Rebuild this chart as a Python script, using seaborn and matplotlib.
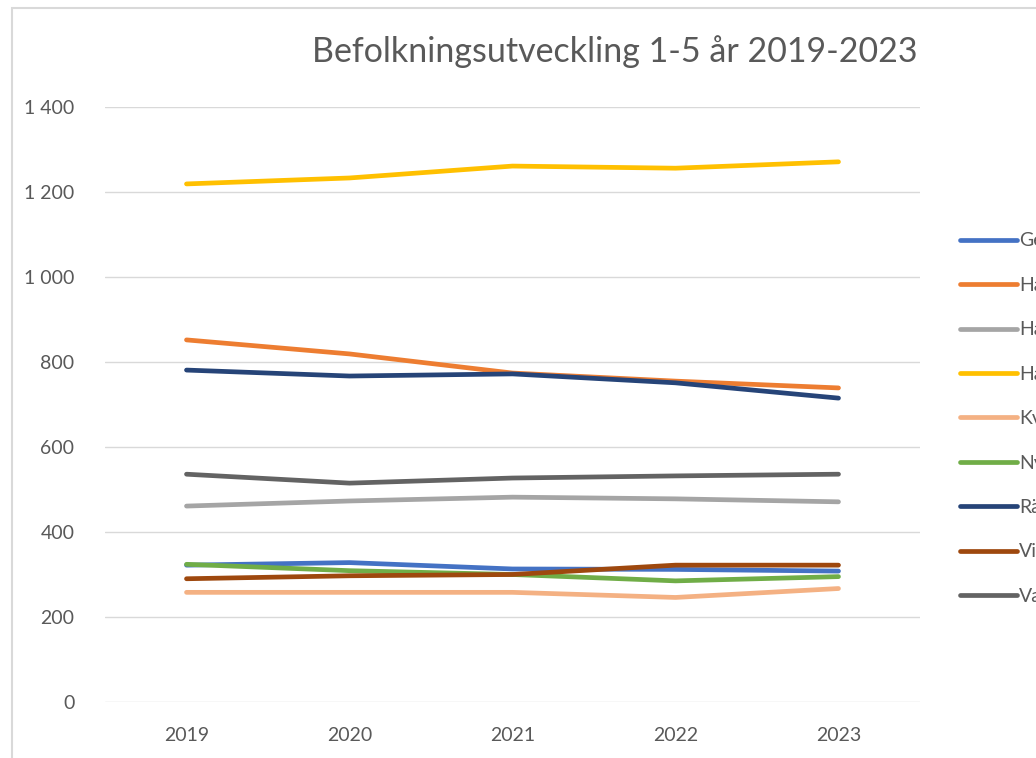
import pandas as pd
import seaborn as sns
import matplotlib.pyplot as plt
from matplotlib.patches import Rectangle
from matplotlib.ticker import FuncFormatter

years = ["2019", "2020", "2021", "2022", "2023"]
areas = ["Getinge", "Harplinge", "Haverdal", "Halmstad", "Kvibille",
         "Nyhem", "Rävinge", "Vinsarp", "Vallås"]
values = {
    "Getinge":   [322, 328, 313, 312, 308],
    "Harplinge": [852, 819, 774, 755, 739],
    "Haverdal":  [461, 473, 482, 478, 471],
    "Halmstad":  [1219, 1233, 1261, 1256, 1271],
    "Kvibille":  [258, 258, 258, 246, 267],
    "Nyhem":     [324, 309, 300, 285, 295],
    "Rävinge":   [781, 767, 772, 751, 715],
    "Vinsarp":   [290, 297, 300, 322, 322],
    "Vallås":    [536, 515, 527, 532, 536],
}
colors = ["#4472C4", "#ED7D31", "#A5A5A5", "#FFC000", "#F4B183",
          "#70AD47", "#264478", "#9E480E", "#636363"]


def build_frame():
    rows = []
    for area in areas:
        for year, v in zip(years, values[area]):
            rows.append({"År": year, "Område": area, "Antal": v})
    return pd.DataFrame(rows)


def plot(df):
    sns.set_theme(style="white")
    plt.rcParams["font.family"] = ["Lato", "DejaVu Sans"]
    W, H = 1036, 758
    fig = plt.figure(figsize=(W / 100, H / 100), dpi=100)
    ax = fig.add_axes([105 / W, (H - 702) / H, 815 / W, 595 / H])

    sns.lineplot(data=df, x="År", y="Antal", hue="Område", hue_order=areas,
                 palette=colors, linewidth=3.4, ax=ax, sort=False,
                 solid_capstyle="round")

    ax.set_xlim(-0.5, 4.5)
    ax.set_ylim(0, 1400)
    ax.set_yticks(range(0, 1401, 200))
    ax.yaxis.set_major_formatter(FuncFormatter(lambda v, p: f"{int(v):,}".replace(",", " ")))
    ax.grid(axis="y", color="#d9d9d9", linewidth=1)
    ax.set_axisbelow(True)
    for s in ax.spines.values():
        s.set_visible(False)
    ax.tick_params(axis="both", length=0, labelsize=14, colors="#595959")
    ax.tick_params(axis="y", pad=22)
    ax.tick_params(axis="x", pad=18)
    ax.set_xlabel("")
    ax.set_ylabel("")

    handles, labels = ax.get_legend_handles_labels()
    ax.get_legend().remove()
    fig.legend(handles, labels, loc="upper left",
               bbox_to_anchor=(942 / W, (H - 215) / H), frameon=False,
               fontsize=14, handlelength=2.95, handletextpad=0.12,
               labelspacing=1.41, labelcolor="#595959")

    fig.text(615 / W, (H - 52) / H, "Befolkningsutveckling 1-5 år 2019-2023",
             ha="center", va="center", fontsize=24.5, color="#595959")

    fig.patches.append(Rectangle((12 / W, -0.1), 1.2, 1.1 - 8 / H,
                                 transform=fig.transFigure, fill=False,
                                 edgecolor="#d9d9d9", linewidth=1.5))
    fig.savefig("out.png", dpi=100)


def main():
    df = build_frame()
    plot(df)


if __name__ == "__main__":
    main()
